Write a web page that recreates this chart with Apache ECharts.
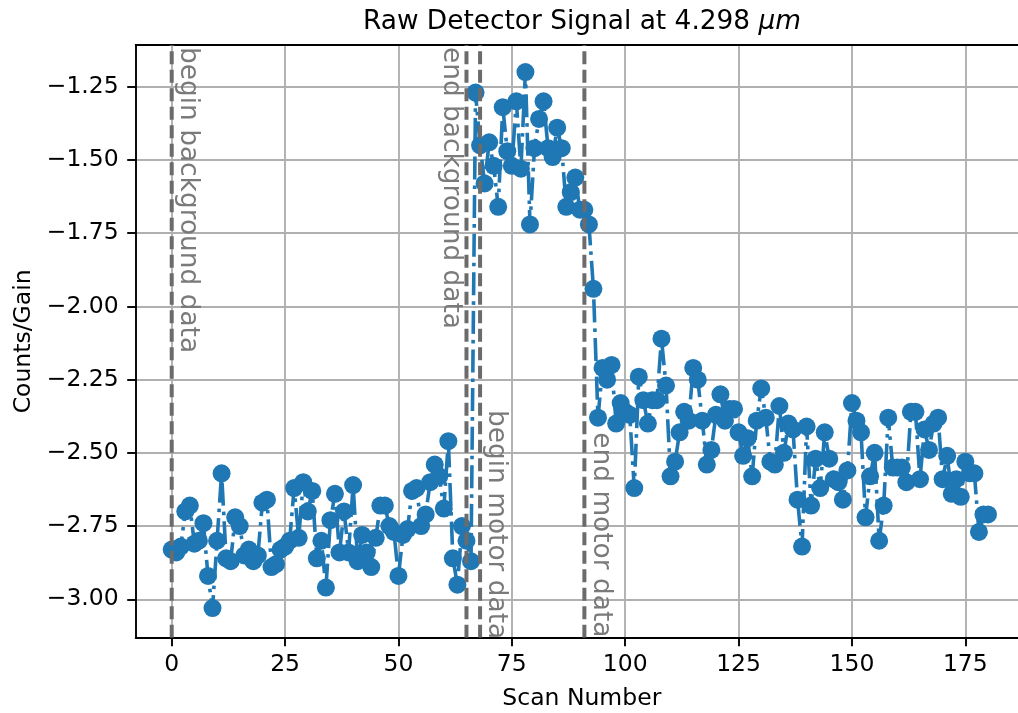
<!DOCTYPE html>
<html>
<head>
<meta charset="utf-8">
<script src="https://cdn.jsdelivr.net/npm/echarts@6/dist/echarts.min.js"></script>
<style>
html,body{margin:0;padding:0;background:#fff;}
#chart{width:1018px;height:713px;}
</style>
</head>
<body>
<div id="chart"></div>
<script>
// ---- data ----
const signal = [
 -2.83,-2.84,-2.82,-2.70,-2.68,-2.81,-2.80,-2.74,-2.92,-3.03,
 -2.80,-2.57,-2.86,-2.87,-2.72,-2.75,-2.85,-2.83,-2.87,-2.85,
 -2.67,-2.66,-2.89,-2.88,-2.83,-2.82,-2.80,-2.62,-2.79,-2.60,
 -2.70,-2.63,-2.86,-2.80,-2.96,-2.73,-2.64,-2.84,-2.70,-2.84,
 -2.61,-2.87,-2.78,-2.84,-2.89,-2.79,-2.68,-2.68,-2.75,-2.77,
 -2.92,-2.78,-2.76,-2.63,-2.62,-2.75,-2.71,-2.60,-2.54,-2.58,
 -2.69,-2.46,-2.86,-2.95,-2.75,-2.80,-2.87,-1.27,-1.45,-1.58,
 -1.44,-1.52,-1.66,-1.32,-1.47,-1.52,-1.30,-1.53,-1.20,-1.72,
 -1.46,-1.36,-1.30,-1.46,-1.49,-1.39,-1.46,-1.66,-1.61,-1.56,
 -1.67,-1.67,-1.72,-1.94,-2.38,-2.21,-2.25,-2.20,-2.40,-2.33,
 -2.36,-2.37,-2.62,-2.24,-2.32,-2.40,-2.32,-2.32,-2.11,-2.27,
 -2.58,-2.53,-2.43,-2.36,-2.39,-2.21,-2.25,-2.39,-2.54,-2.49,
 -2.37,-2.30,-2.39,-2.35,-2.35,-2.43,-2.51,-2.45,-2.58,-2.39,
 -2.28,-2.38,-2.53,-2.54,-2.34,-2.50,-2.40,-2.42,-2.66,-2.82,
 -2.41,-2.68,-2.52,-2.62,-2.43,-2.52,-2.59,-2.60,-2.66,-2.56,
 -2.33,-2.39,-2.43,-2.72,-2.58,-2.50,-2.80,-2.68,-2.38,-2.55,
 -2.55,-2.55,-2.60,-2.36,-2.36,-2.59,-2.42,-2.49,-2.40,-2.38,
 -2.59,-2.51,-2.64,-2.59,-2.65,-2.53,-2.57,-2.57,-2.77,-2.71,
 -2.71
];
const scanNumbers = signal.map((_, i) => i);

const xTicks = [0, 25, 50, 75, 100, 125, 150, 175];
const yTicks = [-3.00, -2.75, -2.50, -2.25, -2.00, -1.75, -1.50, -1.25];

const markerX = [0, 65, 68, 91];
const markerLabels = ['begin background data', 'end background data', 'begin motor data', 'end motor data'];
const markerSide = ['right', 'left', 'right', 'right'];
const markerTextTop = [-1.1076, -1.1076, -2.347, -2.423];

const titleText = 'Raw Detector Signal at 4.298 ';
const titleUnit = 'μm';
const xLabel = 'Scan Number';
const yLabel = 'Counts/Gain';

// ---- axis limits ----
const X_MIN = -7.94, X_MAX = 188.8;
const Y_MIN = -3.131, Y_MAX = -1.1076;

const FONT = 'DejaVu Sans';
const TICK_FS = 23.5;
const BIG_FS = 26.4;

const chart = echarts.init(document.getElementById('chart'), null, {renderer: 'canvas'});

const fmtY = v => (v < 0 ? '\u2212' : '') + Math.abs(v).toFixed(2);

const option = {
  animation: false,
  backgroundColor: '#ffffff',
  title: {
    text: titleText + '{it|' + titleUnit + '}',
    left: 577,
    top: 4,
    textAlign: 'center',
    textStyle: {
      fontFamily: FONT, fontSize: BIG_FS, fontWeight: 'normal', color: '#000',
      rich: { it: { fontFamily: FONT, fontSize: BIG_FS, fontStyle: 'italic', color: '#000' } }
    }
  },
  grid: { left: 135.7, top: 45, right: -9.9, bottom: 75.3, containLabel: false, outerBoundsMode: 'none' },
  xAxis: [{
    type: 'value', min: X_MIN, max: X_MAX, position: 'bottom',
    name: xLabel, nameLocation: 'middle', nameGap: 49,
    nameTextStyle: { fontFamily: FONT, fontSize: TICK_FS, color: '#000' },
    axisLine: { show: true, onZero: false, lineStyle: { color: '#000', width: 1.9 } },
    axisTick: { show: true, length: 8.5, inside: false, customValues: xTicks, lineStyle: { color: '#000', width: 1.9 } },
    axisLabel: { show: true, customValues: xTicks, margin: 15, fontFamily: FONT, fontSize: TICK_FS, color: '#000',
      formatter: v => String(v) },
    splitLine: { show: true, lineStyle: { color: '#b0b0b0', width: 1.9 } }
  }, {
    type: 'value', min: X_MIN, max: X_MAX, position: 'top',
    axisLine: { show: true, onZero: false, lineStyle: { color: '#000', width: 1.9 } },
    axisTick: { show: false }, axisLabel: { show: false }, splitLine: { show: false }
  }],
  yAxis: {
    type: 'value', min: Y_MIN, max: Y_MAX,
    name: yLabel, nameLocation: 'middle', nameGap: 98,
    nameTextStyle: { fontFamily: FONT, fontSize: TICK_FS, color: '#000' },
    axisLine: { show: true, onZero: false, lineStyle: { color: '#000', width: 1.9 } },
    axisTick: { show: true, length: 8.5, inside: false, customValues: yTicks, lineStyle: { color: '#000', width: 1.9 } },
    axisLabel: { show: true, customValues: yTicks, margin: 17, fontFamily: FONT, fontSize: TICK_FS, color: '#000',
      formatter: fmtY },
    splitLine: { show: true, lineStyle: { color: '#b0b0b0', width: 1.9 } }
  },
  series: [{
    type: 'line',
    name: 'signal',
    data: scanNumbers.map((x, i) => [x, signal[i]]),
    symbol: 'circle',
    symbolSize: 18,
    showSymbol: true,
    showAllSymbol: true,
    clip: true,
    itemStyle: { color: '#1f77b4' },
    lineStyle: { color: '#1f77b4', width: 3.6, type: [23, 6, 3.6, 6], cap: 'butt' },
    emphasis: { disabled: true },
    z: 2
  }, {
    type: 'custom',
    name: 'markers',
    clip: true,
    z: 3,
    silent: true,
    data: markerX.map((x, i) => [x, i]),
    renderItem: function (params, api) {
      const i = api.value(1);
      const x = api.value(0);
      const p0 = api.coord([x, Y_MIN]);
      const p1 = api.coord([x, Y_MAX]);
      const pt = api.coord([x, markerTextTop[i]]);
      const right = markerSide[i] === 'right';
      return {
        type: 'group',
        children: [{
          type: 'line',
          shape: { x1: p0[0], y1: p0[1], x2: p1[0], y2: p1[1] },
          style: { stroke: '#6b6b6b', lineWidth: 4, lineDash: [13, 5.5] }
        }, {
          type: 'text',
          x: pt[0] + (right ? 3 : -3),
          y: pt[1] + 2,
          rotation: -Math.PI / 2,
          style: {
            text: markerLabels[i],
            fill: '#7a7a7a',
            fontFamily: FONT,
            fontSize: BIG_FS,
            textAlign: 'left', align: 'left',
            textVerticalAlign: right ? 'bottom' : 'top',
            verticalAlign: right ? 'bottom' : 'top'
          }
        }]
      };
    }
  }]
};
chart.setOption(option);
</script>
</body>
</html>
